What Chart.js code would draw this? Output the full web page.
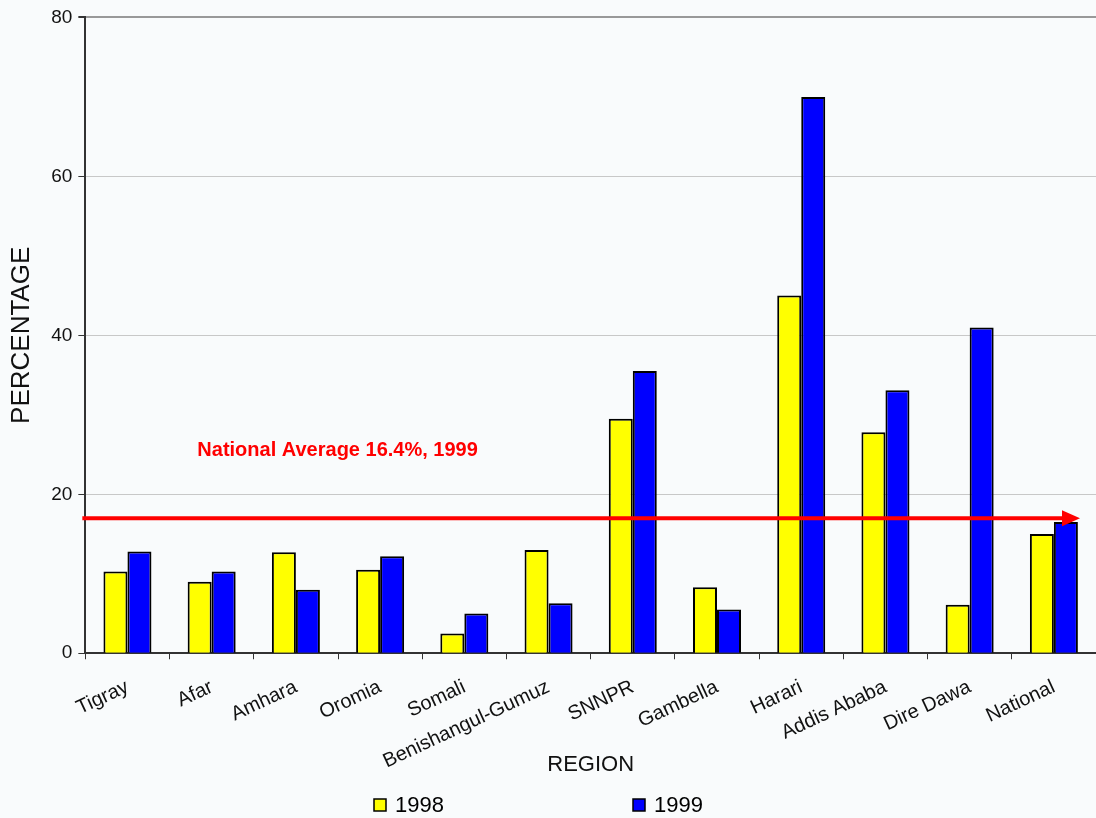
<!DOCTYPE html>
<html>
<head>
<meta charset="utf-8">
<script src="https://cdn.jsdelivr.net/npm/chart.js@4.4.1/dist/chart.umd.min.js"></script>
<style>
  html, body { margin: 0; padding: 0; background: #f9fbfc; }
  #wrap { width: 1096px; height: 818px; }
</style>
</head>
<body>
<div id="wrap"><canvas id="chart"></canvas></div>
<script>
const regions = ["Tigray", "Afar", "Amhara", "Oromia", "Somali", "Benishangul-Gumuz",
    "SNNPR", "Gambella", "Harari", "Addis Ababa", "Dire Dawa", "National"];
const values1998 = [10.3, 9.0, 12.7, 10.5, 2.5, 13.0, 29.5, 8.3, 45.0, 27.8, 6.1, 15.0];
const values1999 = [12.8, 10.3, 8.0, 12.2, 5.0, 6.3, 35.5, 5.5, 70.0, 33.1, 41.0, 16.5];
const avgLine = 17;
const avgText = "National Average 16.4%, 1999";

const FONT = "'Liberation Sans', Arial, sans-serif";

// red arrow + label, and the spaced-out legend at the bottom
const extras = {
    id: "extras",
    afterDatasetsDraw(chart) {
        const ctx = chart.ctx;
        const area = chart.chartArea;
        const y = chart.scales.y.getPixelForValue(avgLine);
        const tip = area.right - 16;
        ctx.save();
        ctx.strokeStyle = "#ff0000";
        ctx.fillStyle = "#ff0000";
        ctx.lineWidth = 4;
        ctx.beginPath();
        ctx.moveTo(area.left - 3, y);
        ctx.lineTo(tip - 14, y);
        ctx.stroke();
        ctx.beginPath();
        ctx.moveTo(tip, y);
        ctx.lineTo(tip - 18, y - 8);
        ctx.lineTo(tip - 18, y + 8);
        ctx.closePath();
        ctx.fill();

        ctx.font = "bold 20px " + FONT;
        ctx.textBaseline = "middle";
        ctx.textAlign = "left";
        ctx.fillText(avgText, area.left + 112, chart.scales.y.getPixelForValue(25.5));

        // legend
        ctx.font = "22px " + FONT;
        const ly = 805;
        const xs = [374, 633];
        chart.data.datasets.forEach((ds, i) => {
            ctx.fillStyle = ds.backgroundColor;
            ctx.fillRect(xs[i], ly - 6, 12, 12);
            ctx.strokeStyle = "#000";
            ctx.lineWidth = 1.5;
            ctx.strokeRect(xs[i], ly - 6, 12, 12);
            ctx.fillStyle = "#000";
            ctx.fillText(ds.label, xs[i] + 21, ly + 1);
        });
        ctx.restore();
    }
};

new Chart(document.getElementById("chart"), {
    type: "bar",
    data: {
        labels: regions,
        datasets: [{
            label: "1998",
            data: values1998,
            backgroundColor: "#ffff00",
            borderColor: "#000",
            borderWidth: 2
        }, {
            label: "1999",
            data: values1999,
            backgroundColor: "#0000ff",
            borderColor: "#000",
            borderWidth: 2
        }]
    },
    options: {
        responsive: true,
        maintainAspectRatio: false,
        animation: false,
        layout: { padding: { top: 2, right: 0, bottom: 40, left: 6 } },
        plugins: {
            legend: { display: false },
            tooltip: { enabled: false }
        },
        datasets: { bar: { categoryPercentage: 0.57, barPercentage: 1.0 } },
        scales: {
            x: {
                grid: { offset: true, drawOnChartArea: false, tickLength: 6, tickColor: "#333" },
                border: { color: "#333", width: 2 },
                ticks: {
                    color: "#111",
                    font: { family: FONT, size: 20 },
                    minRotation: 25, maxRotation: 25,
                    autoSkip: false, padding: 16
                },
                title: {
                    display: true, text: "REGION", color: "#111",
                    font: { family: FONT, size: 22 }, padding: { top: -38, bottom: 0 }
                }
            },
            y: {
                min: 0, max: 80,
                grid: {
                    color: ctx => ctx.tick && ctx.tick.value === 80 ? "#999" : "#c8c8c8",
                    lineWidth: ctx => ctx.tick && ctx.tick.value === 80 ? 2 : 1,
                    tickLength: 7, tickColor: "#333"
                },
                border: { color: "#333", width: 2 },
                ticks: {
                    stepSize: 20, color: "#111",
                    font: { family: FONT, size: 19 }, padding: 6
                },
                title: {
                    display: true, text: "PERCENTAGE", color: "#111",
                    font: { family: FONT, size: 26 }, padding: { top: 0, bottom: 8 }
                }
            }
        }
    },
    plugins: [extras]
});
</script>
</body>
</html>
